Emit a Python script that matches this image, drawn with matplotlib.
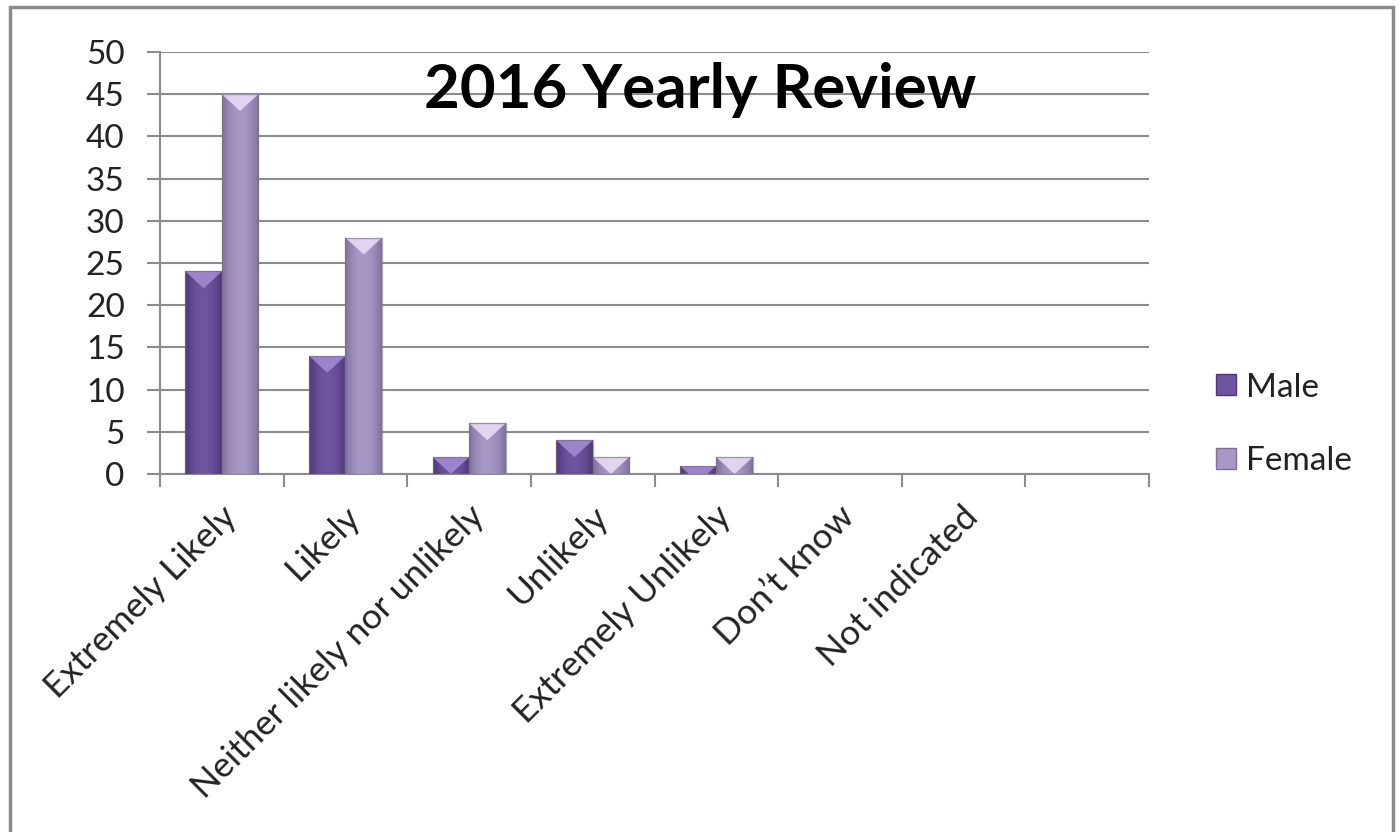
import numpy as np
import matplotlib.pyplot as plt
from matplotlib.patches import Rectangle, Polygon
from matplotlib.colors import LinearSegmentedColormap

categories = ['Extremely Likely', 'Likely', 'Neither likely nor unlikely', 'Unlikely',
              'Extremely Unlikely', 'Don\u2019t know', 'Not indicated', '']
male = [24, 14, 2, 4, 1, 0, 0, 0]
female = [45, 28, 6, 2, 2, 0, 0, 0]
series = [('Male', male), ('Female', female)]

# body colours (edge, centre), bevel colour
styles = {
    'Male': ('#4e3677', '#6f55a0', '#a58cd6'),
    'Female': ('#7f6f9c', '#a898c6', '#ebe0f8'),
}

plt.rcParams['font.family'] = ['Lato', 'DejaVu Sans']
fig = plt.figure(figsize=(13.99, 8.32), dpi=100)
fig.patches.append(Rectangle((0.0072, -0.01), 0.9886, 1.0016, transform=fig.transFigure,
                             fill=False, edgecolor='#8a8a8a', linewidth=2.5))
ax = fig.add_axes([0.1144, 0.4303, 0.7069, 0.5072])

x = np.arange(len(categories))
bw = 0.295
grad = np.abs(np.linspace(-1, 1, 64))[None, :]
for k, (name, vals) in enumerate(series):
    edge, centre, bevel = styles[name]
    cmap = LinearSegmentedColormap.from_list(name, [centre, edge])
    for xi, v in zip(x, vals):
        if v <= 0:
            continue
        x0 = xi - bw + k * bw
        bar = Rectangle((x0, 0), bw, v, facecolor=centre, edgecolor='none', zorder=3)
        ax.add_patch(bar)
        im = ax.imshow(grad ** 2, cmap=cmap, extent=(x0, x0 + bw, 0, v), aspect='auto',
                       zorder=3.1, interpolation='bicubic')
        im.set_clip_path(bar)
        d = 2.0
        tri = Polygon([(x0, v), (x0 + bw, v), (x0 + bw / 2, v - d)], closed=True,
                      facecolor=bevel, edgecolor='none', alpha=0.85, zorder=3.2)
        ax.add_patch(tri)
        tri.set_clip_path(bar)
        ax.add_patch(Rectangle((x0, 0), bw, v, fill=False, edgecolor='#7a7288',
                               linewidth=1.0, alpha=0.6, zorder=3.3))

ax.set_xlim(-0.5, len(categories) - 0.5)
ax.set_ylim(0, 50)
ax.set_yticks(np.arange(0, 51, 5))
ax.set_xticks(np.arange(-0.5, len(categories), 1.0))
ax.set_xticklabels([])
ax.grid(axis='y', color='#8c8c8c', linewidth=1.5, zorder=0)
ax.set_axisbelow(True)
for s in ['top', 'right']:
    ax.spines[s].set_visible(False)
for s in ['left', 'bottom']:
    ax.spines[s].set_color('#8c8c8c')
    ax.spines[s].set_linewidth(1.5)
ax.tick_params(axis='y', length=9.5, width=1.5, color='#8c8c8c', pad=16, labelsize=24,
               labelcolor='#222222')
ax.tick_params(axis='x', length=9, width=1.5, color='#8c8c8c')

for xi, lab in zip(x, categories):
    ax.annotate(lab, xy=(xi, 0), xycoords=('data', 'axes fraction'),
                xytext=(7, -27), textcoords='offset points', rotation=45,
                rotation_mode='anchor', ha='right', va='center', fontsize=25.5,
                color='#222222')

ax.text(0.546, 0.91, '2016 Yearly Review', transform=ax.transAxes, ha='center', va='center',
        fontsize=44.5, fontweight='bold', color='black', zorder=5)

handles = [Rectangle((0, 0), 1, 1, facecolor=styles[n][1], edgecolor=styles[n][0])
           for n, _ in series]
leg = fig.legend(handles, [n for n, _ in series], loc='center left',
                 bbox_to_anchor=(0.848, 0.49), frameon=False, fontsize=24,
                 handlelength=0.6, handleheight=0.6, handletextpad=0.3, labelspacing=1.3)
for t in leg.get_texts():
    t.set_color('#222222')

fig.savefig('out.png', dpi=100, facecolor='white')
